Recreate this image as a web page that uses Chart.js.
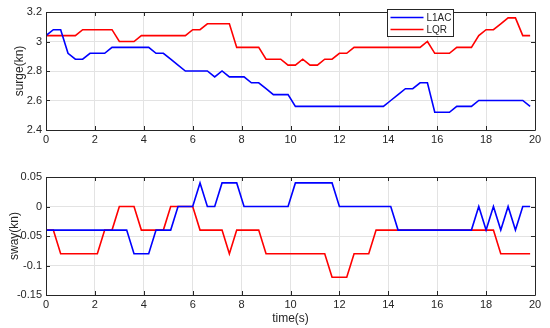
<!DOCTYPE html>
<html>
<head>
<meta charset="utf-8">
<script src="https://cdn.jsdelivr.net/npm/chart.js@4.4.1/dist/chart.umd.min.js"></script>
<style>
  html, body { margin: 0; padding: 0; background: #fff; }
  #wrap { position: relative; width: 550px; height: 328px; }
  canvas { position: absolute; left: 0; }
  #surge { top: 0; }
  #sway { top: 160px; }
</style>
</head>
<body>
<div id="wrap">
  <canvas id="surge" width="550" height="160"></canvas>
  <canvas id="sway" width="550" height="168"></canvas>
</div>
<script>
// tempo das amostras (s)
const tempo = [0, 0.3, 0.6, 0.9, 1.2, 1.5, 1.8, 2.1, 2.4, 2.7, 3.0, 3.3, 3.6, 3.9, 4.2, 4.5, 4.8,
  5.1, 5.4, 5.7, 6.0, 6.3, 6.6, 6.9, 7.2, 7.5, 7.8, 8.1, 8.4, 8.7, 9.0, 9.3, 9.6, 9.9,
  10.2, 10.5, 10.8, 11.1, 11.4, 11.7, 12.0, 12.3, 12.6, 12.9, 13.2, 13.5, 13.8, 14.1, 14.4,
  14.7, 15.0, 15.3, 15.6, 15.9, 16.2, 16.5, 16.8, 17.1, 17.4, 17.7, 18.0, 18.3, 18.6, 18.9,
  19.2, 19.5, 19.8];

const surgeL1AC = [3.04, 3.08, 3.08, 2.92, 2.88, 2.88, 2.92, 2.92, 2.92, 2.96, 2.96, 2.96, 2.96,
  2.96, 2.96, 2.92, 2.92, 2.88, 2.84, 2.80, 2.80, 2.80, 2.80, 2.76, 2.80, 2.76, 2.76, 2.76,
  2.72, 2.72, 2.68, 2.64, 2.64, 2.64, 2.56, 2.56, 2.56, 2.56, 2.56, 2.56, 2.56, 2.56, 2.56,
  2.56, 2.56, 2.56, 2.56, 2.60, 2.64, 2.68, 2.68, 2.72, 2.72, 2.52, 2.52, 2.52, 2.56, 2.56,
  2.56, 2.60, 2.60, 2.60, 2.60, 2.60, 2.60, 2.60, 2.56];

const surgeLQR = [3.04, 3.04, 3.04, 3.04, 3.04, 3.08, 3.08, 3.08, 3.08, 3.08, 3.00, 3.00, 3.00,
  3.04, 3.04, 3.04, 3.04, 3.04, 3.04, 3.04, 3.08, 3.08, 3.12, 3.12, 3.12, 3.12, 2.96, 2.96,
  2.96, 2.96, 2.88, 2.88, 2.88, 2.84, 2.84, 2.88, 2.84, 2.84, 2.88, 2.88, 2.92, 2.92, 2.96,
  2.96, 2.96, 2.96, 2.96, 2.96, 2.96, 2.96, 2.96, 2.96, 3.00, 2.92, 2.92, 2.92, 2.96, 2.96,
  2.96, 3.04, 3.08, 3.08, 3.12, 3.16, 3.16, 3.04, 3.04];

const swayL1AC = [-0.04, -0.04, -0.04, -0.04, -0.04, -0.04, -0.04, -0.04, -0.04, -0.04, -0.04,
  -0.04, -0.08, -0.08, -0.08, -0.04, -0.04, -0.04, 0, 0, 0, 0.04, 0, 0, 0.04, 0.04, 0.04, 0,
  0, 0, 0, 0, 0, 0, 0.04, 0.04, 0.04, 0.04, 0.04, 0.04, 0, 0, 0, 0, 0, 0, 0, 0, -0.04, -0.04,
  -0.04, -0.04, -0.04, -0.04, -0.04, -0.04, -0.04, -0.04, -0.04, 0, -0.04, 0, -0.04, 0, -0.04,
  0, 0];

const swayLQR = [-0.04, -0.04, -0.08, -0.08, -0.08, -0.08, -0.08, -0.08, -0.04, -0.04, 0, 0, 0,
  -0.04, -0.04, -0.04, -0.04, 0, 0, 0, 0, -0.04, -0.04, -0.04, -0.04, -0.08, -0.04, -0.04,
  -0.04, -0.04, -0.08, -0.08, -0.08, -0.08, -0.08, -0.08, -0.08, -0.08, -0.08, -0.12, -0.12,
  -0.12, -0.08, -0.08, -0.08, -0.04, -0.04, -0.04, -0.04, -0.04, -0.04, -0.04, -0.04, -0.04,
  -0.04, -0.04, -0.04, -0.04, -0.04, -0.04, -0.04, -0.04, -0.08, -0.08, -0.08, -0.08, -0.08];

const nomes = ['L1AC', 'LQR'];
const cores = ['#0000ff', '#ff0000'];

const corTexto = '#262626';
const fonte = 'Liberation Sans, Arial, sans-serif';

function pontos(valores) {
  return valores.map((v, i) => ({ x: tempo[i], y: v }));
}

// moldura + marcas internas, estilo MATLAB
const moldura = {
  id: 'moldura',
  afterDraw(chart) {
    const { ctx, chartArea: a, scales } = chart;
    ctx.save();
    ctx.strokeStyle = '#262626';
    ctx.lineWidth = 1;
    ctx.beginPath();
    ctx.rect(Math.round(a.left) + 0.5, Math.round(a.top) + 0.5,
      Math.round(a.right - a.left), Math.round(a.bottom - a.top));
    scales.x.ticks.forEach(t => {
      const px = Math.round(scales.x.getPixelForValue(t.value)) + 0.5;
      ctx.moveTo(px, a.bottom); ctx.lineTo(px, a.bottom - 4);
      ctx.moveTo(px, a.top); ctx.lineTo(px, a.top + 4);
    });
    scales.y.ticks.forEach(t => {
      const py = Math.round(scales.y.getPixelForValue(t.value)) + 0.5;
      ctx.moveTo(a.left, py); ctx.lineTo(a.left + 4, py);
      ctx.moveTo(a.right, py); ctx.lineTo(a.right - 4, py);
    });
    ctx.stroke();
    ctx.restore();
  }
};

const legenda = {
  id: 'legenda',
  afterDraw(chart, args, opts) {
    if (!opts.mostrar) return;
    const ctx = chart.ctx;
    const x = 387.5, y = 9.5, w = 66, h = 27;
    ctx.save();
    ctx.fillStyle = '#fff';
    ctx.fillRect(x, y, w, h);
    ctx.strokeStyle = '#262626';
    ctx.lineWidth = 1;
    ctx.strokeRect(x, y, w, h);
    ctx.font = '10px ' + fonte;
    ctx.textBaseline = 'middle';
    nomes.forEach((n, i) => {
      const ly = y + 8 + i * 12;
      ctx.strokeStyle = cores[i];
      ctx.lineWidth = 1.5;
      ctx.beginPath();
      ctx.moveTo(x + 3, ly); ctx.lineTo(x + 36, ly);
      ctx.stroke();
      ctx.fillStyle = corTexto;
      ctx.fillText(n, x + 39, ly + 0.5);
    });
    ctx.restore();
  }
};

function criarGrafico(id, series, cfg) {
  return new Chart(document.getElementById(id).getContext('2d'), {
    type: 'line',
    data: {
      datasets: series.map((s, i) => ({
        label: nomes[i], data: pontos(s), borderColor: cores[i], borderWidth: 1.6,
        pointRadius: 0, tension: 0, fill: false
      }))
    },
    options: {
      responsive: false,
      animation: false,
      layout: { padding: { left: 0, right: 15, top: cfg.topo, bottom: 0 } },
      plugins: { legend: { display: false }, tooltip: { enabled: false }, legenda: { mostrar: cfg.legenda } },
      scales: {
        x: {
          type: 'linear', min: 0, max: 20,
          ticks: { stepSize: 2, color: corTexto, font: { family: fonte, size: 11 }, padding: 3, maxRotation: 0 },
          grid: { color: '#e3e3e3', drawTicks: false },
          border: { display: false },
          title: { display: !!cfg.tituloX, text: cfg.tituloX || '', color: corTexto,
            font: { family: fonte, size: 12 }, padding: { top: 0, bottom: 2 } },
          afterFit: s => { s.height = cfg.alturaX; }
        },
        y: {
          min: cfg.min, max: cfg.max,
          ticks: { stepSize: cfg.passo, color: corTexto, font: { family: fonte, size: 11 }, padding: 4,
            callback: v => String(Number(v.toFixed(2))) },
          grid: { color: '#e3e3e3', drawTicks: false },
          border: { display: false },
          title: { display: true, text: cfg.tituloY, color: corTexto,
            font: { family: fonte, size: 12 }, padding: { top: cfg.padTitulo, bottom: 0 } },
          afterFit: s => { s.width = 46; }
        }
      }
    },
    plugins: [moldura, legenda]
  });
}

criarGrafico('surge', [surgeL1AC, surgeLQR],
  { min: 2.4, max: 3.2, passo: 0.2, tituloY: 'surge(kn)', padTitulo: 12, topo: 12, alturaX: 30, legenda: true });
criarGrafico('sway', [swayL1AC, swayLQR],
  { min: -0.15, max: 0.05, passo: 0.05, tituloY: 'sway(kn)', padTitulo: 7, topo: 17, alturaX: 33, tituloX: 'time(s)' });
</script>
</body>
</html>
